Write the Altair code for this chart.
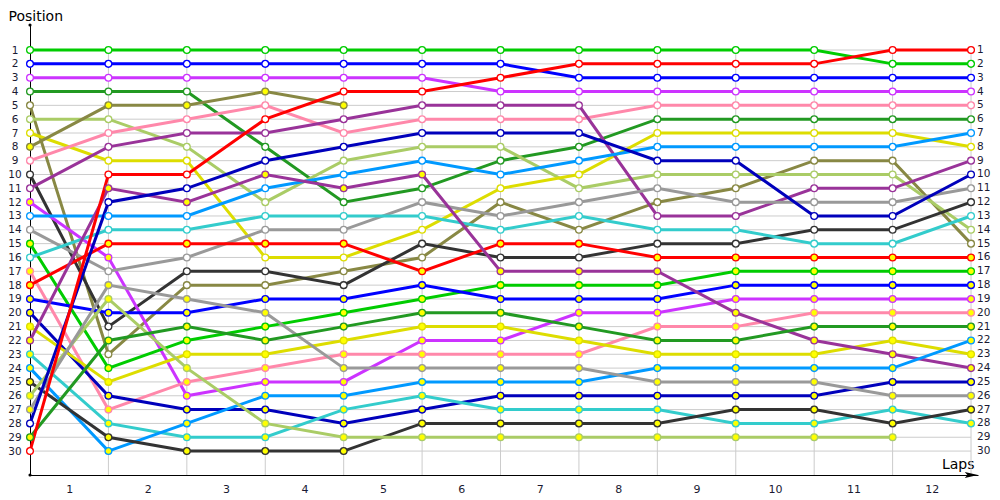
import altair as alt
import pandas as pd

# ---- data -------------------------------------------------------------
laps = list(range(13))                      # lap boundaries 0..12
lap_label_pos = [l + 0.5 for l in laps[:-1]]  # labels 1..12 sit between boundaries
positions = list(range(1, 31))

GREEN, BLUE, VIOLET, DKGREEN = "#00CC00", "#0000FF", "#CC33FF", "#229922"
OLIVE, LTGREEN, YELLOW, PINK = "#888844", "#AACC66", "#DDDD00", "#FF88AA"
DKGREY, PURPLE, SKYBLUE, GREY = "#333333", "#993399", "#0099FF", "#999999"
CYAN, DKBLUE, RED = "#33CCCC", "#0000BB", "#FF0000"

# position at each lap boundary (0..12), by starting grid slot
car01 = [1, 1, 1, 1, 1, 1, 1, 1, 1, 1, 1, 2, 2]
car02 = [2, 2, 2, 2, 2, 2, 2, 3, 3, 3, 3, 3, 3]
car03 = [3, 3, 3, 3, 3, 3, 4, 4, 4, 4, 4, 4, 4]
car04 = [4, 4, 4, 8, 12, 11, 9, 8, 6, 6, 6, 6, 6]
car05 = [5, 23, 18, 18, 17, 16, 12, 14, 12, 11, 9, 9, 15]
car06 = [6, 6, 8, 12, 9, 8, 8, 11, 10, 10, 10, 10, 14]
car07 = [7, 9, 9, 16, 16, 14, 11, 10, 7, 7, 7, 7, 8]
car08 = [8, 5, 5, 4, 5]
car09 = [9, 7, 6, 5, 7, 6, 6, 6, 5, 5, 5, 5, 5]
car10 = [10, 21, 17, 17, 18, 15, 16, 16, 15, 15, 14, 14, 12]
car11 = [11, 8, 7, 7, 6, 5, 5, 5, 13, 13, 11, 11, 9]
car12 = [12, 16, 26, 25, 25, 22, 22, 20, 20, 19, 19, 19, 19]
car13 = [13, 13, 13, 11, 10, 9, 10, 9, 8, 8, 8, 8, 7]
car14 = [14, 17, 16, 14, 14, 12, 13, 12, 11, 12, 12, 12, 11]
car15 = [15, 24, 22, 21, 20, 19, 18, 18, 18, 17, 17, 17, 17]
car16 = [16, 14, 14, 13, 13, 13, 14, 13, 14, 14, 15, 15, 13]
car17 = [17, 27, 25, 24, 23, 23, 23, 23, 21, 21, 20, 20, 20]
car18 = [18, 15, 15, 15, 15, 17, 15, 15, 16, 16, 16, 16, 16]
car19 = [19, 20, 20, 19, 19, 18, 19, 19, 19, 18, 18, 18, 18]
car20 = [20, 26, 27, 27, 28, 27, 26, 26, 26, 26, 26, 25, 25]
car21 = [21, 25, 23, 23, 22, 21, 21, 22, 23, 23, 23, 22, 23]
car22 = [22, 11, 12, 10, 11, 10, 17, 17, 17, 20, 22, 23, 24]
car23 = [23, 28, 29, 29, 27, 26, 27, 27, 27, 28, 28, 27, 28]
car24 = [24, 30, 28, 26, 26, 25, 25, 25, 24, 24, 24, 24, 22]
car25 = [25, 29, 30, 30, 30, 28, 28, 28, 28, 27, 27, 28, 27]
car26 = [26, 19, 24, 28, 29, 29, 29, 29, 29, 29, 29, 29]
car27 = [27, 18, 19, 20, 24, 24, 24, 24, 25, 25, 25, 26, 26]
car28 = [28, 12, 11, 9, 8, 7, 7, 7, 9, 9, 13, 13, 10]
car29 = [29, 22, 21, 22, 21, 20, 20, 21, 22, 22, 21, 21, 21]
car30 = [30, 10, 10, 6, 4, 4, 3, 2, 2, 2, 2, 1, 1]

cars = [car01, car02, car03, car04, car05, car06, car07, car08, car09, car10,
        car11, car12, car13, car14, car15, car16, car17, car18, car19, car20,
        car21, car22, car23, car24, car25, car26, car27, car28, car29, car30]
car_names = [f"Car {i:02d}" for i in range(1, 31)]
car_colors = [GREEN, BLUE, VIOLET, DKGREEN, OLIVE, LTGREEN, YELLOW, OLIVE, PINK, DKGREY,
              PURPLE, VIOLET, SKYBLUE, GREY, GREEN, CYAN, PINK, RED, BLUE, DKBLUE,
              YELLOW, PURPLE, CYAN, SKYBLUE, DKGREY, LTGREEN, GREY, DKBLUE, DKGREEN, RED]
# marker class: "W" white-filled, "Y" yellow-filled
car_class = ["W", "W", "W", "W", "W", "W", "W", "Y", "W", "W",
             "W", "Y", "W", "W", "Y", "W", "Y", "Y", "Y", "Y",
             "Y", "Y", "Y", "Y", "Y", "Y", "Y", "W", "Y", "W"]
class_fill = {"W": "#FFFFFF", "Y": "#FFFF00"}

rows = []
for name, pos_list, cls in zip(car_names, cars, car_class):
    for lap, p in zip(laps, pos_list):
        rows.append({"car": name, "lap": lap, "pos": p, "fill": class_fill[cls]})
df = pd.DataFrame(rows)

hgrid_df = pd.DataFrame({"pos": positions, "lap": laps[0], "lap_end": laps[-1]})
vgrid_df = pd.DataFrame({"lap": laps[1:], "pos": positions[0]})
right_df = pd.DataFrame({"pos": positions, "lap": laps[-1]})

# ---- geometry -------------------------------------------------------------
W, H = 948, 450
xs = alt.Scale(domain=[0, 12.089], nice=False, zero=False)
ys = alt.Scale(domain=[-0.81, 31.73], nice=False, zero=False, reverse=True)
TXT = "#1A1A33"

xaxis = alt.Axis(values=lap_label_pos, labelExpr="datum.value + 0.5", ticks=False,
                 grid=False, domainColor="black", domainWidth=1, labelPadding=8,
                 labelFontSize=11, labelColor=TXT, labelOverlap=False, labelFlush=False,
                 title="Laps", titleAlign="right", titleX=944, titleY=-7,
                 titleBaseline="alphabetic", titleFontSize=14, titleFontWeight="normal",
                 titleColor="black", titleAnchor="end")
yaxis = alt.Axis(values=positions, ticks=False, grid=False, domainColor="black",
                 domainWidth=1, labelAlign="center", labelPadding=15.5,
                 labelFontSize=10.5, labelColor=TXT, labelOverlap=False, labelFlush=False,
                 title="Position", titleAngle=0, titleAlign="left", titleX=-22,
                 titleY=-5, titleBaseline="alphabetic", titleFontSize=14,
                 titleFontWeight="normal", titleColor="black")

X = alt.X("lap:Q", scale=xs, axis=xaxis)
Y = alt.Y("pos:Q", scale=ys, axis=yaxis)
color = alt.Color("car:N", scale=alt.Scale(domain=car_names, range=car_colors), legend=None)

hgrid = alt.Chart(hgrid_df).mark_rule(color="#CCCCCC", strokeWidth=1).encode(
    x=X, x2="lap_end:Q", y=Y)
vgrid = alt.Chart(vgrid_df).mark_rule(color="#CCCCCC", strokeWidth=1).encode(
    x=X, y=Y, y2=alt.value(H))

lines = alt.Chart(df).mark_line(strokeWidth=3).encode(x=X, y=Y, color=color, detail="car:N")
points = alt.Chart(df).mark_point(shape="circle", size=46, strokeWidth=1.3, filled=True,
                                  opacity=1).encode(
    x=X, y=Y,
    fill=alt.Fill("fill:N", scale=None),
    stroke=alt.Stroke("car:N", scale=alt.Scale(domain=car_names, range=car_colors), legend=None))

right_labels = alt.Chart(right_df).mark_text(align="left", baseline="middle", dx=6,
                                             fontSize=10.5, color=TXT).encode(
    x=X, y=Y, text="pos:N")

deco_df = pd.DataFrame({"k": [0]})
dot_top = alt.Chart(deco_df).mark_point(shape="circle", filled=True, color="black",
                                        size=10, opacity=1).encode(
    x=alt.value(0), y=alt.value(0))
dot_bottom = alt.Chart(deco_df).mark_point(shape="circle", filled=True, color="black",
                                           size=10, opacity=1).encode(
    x=alt.value(0), y=alt.value(H))
arrow = alt.Chart(deco_df).mark_point(shape="M -1 -0.22 L 0 0 L -1 0.22 L -0.8 0 Z",
                                      filled=True, color="black", size=700,
                                      opacity=1).encode(
    x=alt.value(W), y=alt.value(H))

chart = alt.layer(hgrid, vgrid, lines, points, right_labels, dot_top, dot_bottom, arrow).properties(
    width=W, height=H,
    padding={"left": 22, "top": 17, "right": 14, "bottom": 26},
    autosize=alt.AutoSizeParams(type="none"),
).configure(font="DejaVu Sans").configure_view(stroke=None)

chart.save("out.html", embed_options={"renderer": "svg", "actions": False})
